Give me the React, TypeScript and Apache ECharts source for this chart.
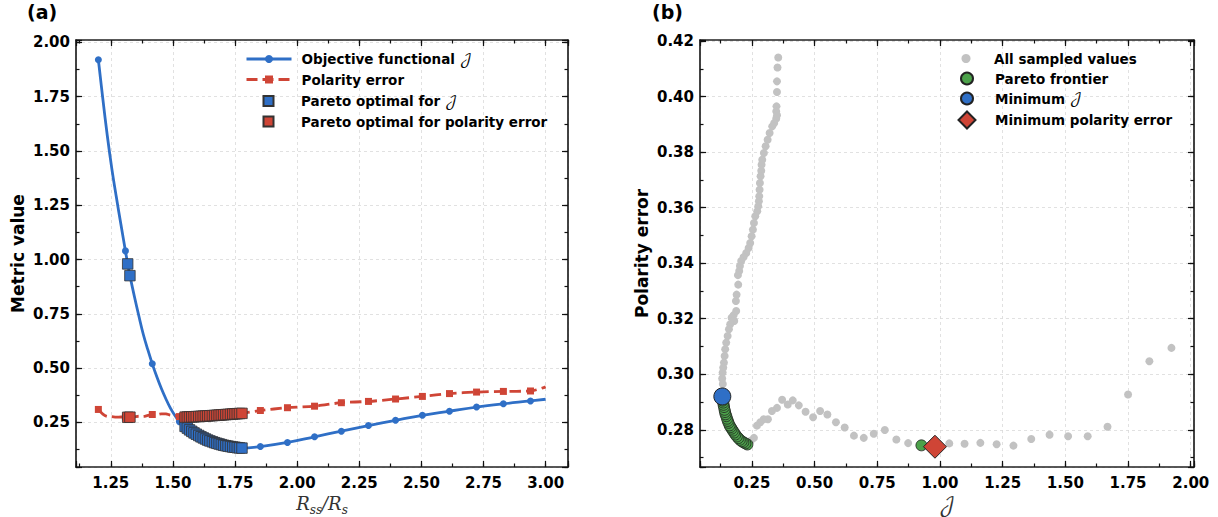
import React, { useEffect, useRef } from "react";
import * as echarts from "echarts";

// ---------- Panel (a): samples along R_ss/R_s (non-Pareto) ----------
const rssSamples = [1.200, 1.218, 1.236, 1.254, 1.272, 1.291, 1.309, 1.345, 1.363, 1.381, 1.399, 1.417, 1.436, 1.454, 1.472, 1.490, 1.508, 1.526, 1.540, 1.852, 1.961, 2.070, 2.178, 2.287, 2.396, 2.504, 2.613, 2.722, 2.830, 2.939, 3.000];
const jSamples = [1.92, 1.74, 1.57, 1.42, 1.29, 1.16, 1.04, 0.83, 0.74, 0.655, 0.585, 0.52, 0.458, 0.405, 0.358, 0.316, 0.282, 0.254, 0.240, 0.139, 0.158, 0.184, 0.210, 0.236, 0.260, 0.283, 0.302, 0.321, 0.336, 0.349, 0.357];
const polSamples = [0.310, 0.288, 0.2777, 0.2767, 0.2746, 0.2752, 0.2751, 0.2764, 0.2786, 0.2778, 0.2824, 0.2868, 0.2866, 0.2900, 0.2895, 0.2838, 0.2827, 0.2771, 0.2760, 0.305, 0.318, 0.325, 0.341, 0.347, 0.358, 0.370, 0.383, 0.390, 0.393, 0.395, 0.414];

// ---------- Pareto-optimal samples ----------
const paretoRss = [1.318, 1.327, 1.549, 1.558, 1.567, 1.576, 1.585, 1.594, 1.604, 1.613, 1.622, 1.631, 1.640, 1.649, 1.659, 1.668, 1.677, 1.686, 1.695, 1.704, 1.713, 1.722, 1.732, 1.741, 1.750, 1.759, 1.768, 1.778];
const paretoJ = [0.98, 0.926, 0.232, 0.224, 0.216, 0.209, 0.202, 0.196, 0.190, 0.184, 0.179, 0.174, 0.169, 0.165, 0.161, 0.157, 0.154, 0.151, 0.148, 0.145, 0.143, 0.141, 0.139, 0.137, 0.136, 0.134, 0.133, 0.132];
const paretoPol = [0.2739, 0.2744, 0.2747, 0.2751, 0.2755, 0.2759, 0.2764, 0.2770, 0.2776, 0.2783, 0.2790, 0.2797, 0.2804, 0.2810, 0.2816, 0.2825, 0.2832, 0.2840, 0.2849, 0.2856, 0.2864, 0.2872, 0.2882, 0.2890, 0.2898, 0.2905, 0.2912, 0.2920];

// samples that carry a line marker in panel (a)
const markerRss = [1.200, 1.309, 1.417, 1.526, 1.640, 1.741, 1.852, 1.961, 2.070, 2.178, 2.287, 2.396, 2.504, 2.613, 2.722, 2.830, 2.939];

// ---------- Panel (b): all sampled (J, polarity error) pairs ----------
const upperJ = [0.355, 0.352, 0.350, 0.350, 0.348, 0.347, 0.350, 0.347, 0.339, 0.331, 0.3206, 0.3126, 0.3046, 0.2978, 0.2912, 0.2886, 0.2872, 0.2846, 0.2819, 0.2806, 0.2793, 0.2779, 0.2753, 0.2713, 0.2633, 0.258, 0.254, 0.2488, 0.2432, 0.2368, 0.2273, 0.2169, 0.2073, 0.2022, 0.1994, 0.1942, 0.1954, 0.189, 0.1862, 0.1874, 0.177, 0.169, 0.1796, 0.1635, 0.1583, 0.1531, 0.1475, 0.1435, 0.1411, 0.1384, 0.1356, 0.1332, 0.1316, 0.134];
const upperPol = [0.4141, 0.4105, 0.4055, 0.4017, 0.3965, 0.3947, 0.3933, 0.3921, 0.3905, 0.3893, 0.3869, 0.3845, 0.3821, 0.3797, 0.3773, 0.3755, 0.3733, 0.3713, 0.3689, 0.3665, 0.3641, 0.3623, 0.3605, 0.3587, 0.3569, 0.3545, 0.3521, 0.3497, 0.3473, 0.3455, 0.3437, 0.3422, 0.3408, 0.339, 0.3372, 0.3357, 0.3323, 0.3287, 0.3264, 0.3228, 0.3213, 0.3204, 0.3192, 0.318, 0.3162, 0.3138, 0.3114, 0.309, 0.3066, 0.3042, 0.3024, 0.3006, 0.2985, 0.2965];
const lowerJ = [1.923, 1.835, 1.75, 1.668, 1.589, 1.511, 1.437, 1.364, 1.293, 1.226, 1.161, 1.098, 1.037, 0.873, 0.826, 0.780, 0.736, 0.696, 0.657, 0.620, 0.585, 0.551, 0.522, 0.494, 0.464, 0.437, 0.413, 0.393, 0.3705, 0.350, 0.330, 0.314, 0.297, 0.2835, 0.270, 0.258, 0.245];
const lowerPol = [0.3095, 0.3047, 0.2927, 0.2811, 0.2777, 0.2777, 0.2782, 0.2767, 0.2743, 0.2748, 0.2753, 0.2750, 0.2751, 0.2752, 0.2765, 0.2799, 0.2786, 0.2771, 0.2779, 0.2808, 0.2827, 0.2855, 0.2868, 0.2845, 0.2865, 0.2888, 0.2906, 0.2891, 0.2908, 0.2879, 0.2868, 0.2838, 0.2838, 0.2827, 0.2815, 0.2771, 0.2760];

const BLUE = "#2f6fc6";
const RED = "#cf4536";
const GREEN = "#4ca24a";
const GREY = "#c2c2c2";
const FONT = "'DejaVu Sans', sans-serif";
const MATH = "'DejaVu Math TeX Gyre', 'DejaVu Serif', 'DejaVu Sans', serif";
const JCHAR = "\u{1D4A5}";

const fmt = (step: number) => (v: number) => {
  const r = v / step;
  return Math.abs(r - Math.round(r)) < 1e-6 ? v.toFixed(2) : "";
};

const tickLine = { color: "#111", width: 1.2 };
const frameLine = { color: "#222", width: 1.7 };
const LABEL = { color: "#000", fontFamily: FONT, fontWeight: "bold", fontSize: 15 };

function xAxesFor(grid: number, min: number, max: number, major: number, minor: number, name: string, nameTextStyle: any, nameGap: number) {
  const base = { type: "value", gridIndex: grid, min, max };
  return [
    {
      ...base, position: "bottom", minInterval: major, maxInterval: major,
      axisLine: { show: true, onZero: false, lineStyle: frameLine },
      axisTick: { show: true, inside: true, length: 6, lineStyle: tickLine },
      axisLabel: { show: true, margin: 8, formatter: fmt(major), ...LABEL },
      splitLine: { show: true, lineStyle: { color: "#d9d9d9", width: 0.8, type: [3, 3] } },
      name, nameLocation: "middle", nameGap, nameTextStyle,
    },
    {
      ...base, position: "bottom", minInterval: minor, maxInterval: minor,
      axisLine: { show: false, onZero: false },
      axisTick: { show: true, inside: true, length: 3.5, lineStyle: tickLine },
      axisLabel: { show: false }, splitLine: { show: false },
    },
    {
      ...base, position: "top", minInterval: major, maxInterval: major,
      axisLine: { show: true, onZero: false, lineStyle: frameLine },
      axisTick: { show: true, inside: true, length: 6, lineStyle: tickLine },
      axisLabel: { show: false }, splitLine: { show: false },
    },
    {
      ...base, position: "top", minInterval: minor, maxInterval: minor,
      axisLine: { show: false, onZero: false },
      axisTick: { show: true, inside: true, length: 3.5, lineStyle: tickLine },
      axisLabel: { show: false }, splitLine: { show: false },
    },
  ];
}

function yAxesFor(grid: number, min: number, max: number, major: number, minor: number, name: string) {
  const base = { type: "value", gridIndex: grid, min, max };
  return [
    {
      ...base, position: "left", minInterval: major, maxInterval: major,
      axisLine: { show: true, onZero: false, lineStyle: frameLine },
      axisTick: { show: true, inside: true, length: 6, lineStyle: tickLine },
      axisLabel: { show: true, margin: 6, formatter: fmt(major), ...LABEL },
      splitLine: { show: true, lineStyle: { color: "#d9d9d9", width: 0.8, type: [3, 3] } },
      name, nameLocation: "middle", nameGap: 50, nameRotate: 90,
      nameTextStyle: { fontFamily: FONT, fontWeight: "bold", fontSize: 17, color: "#000" },
    },
    {
      ...base, position: "left", minInterval: minor, maxInterval: minor,
      axisLine: { show: false, onZero: false },
      axisTick: { show: true, inside: true, length: 3.5, lineStyle: tickLine },
      axisLabel: { show: false }, splitLine: { show: false },
    },
    {
      ...base, position: "right", minInterval: major, maxInterval: major,
      axisLine: { show: true, onZero: false, lineStyle: frameLine },
      axisTick: { show: true, inside: true, length: 6, lineStyle: tickLine },
      axisLabel: { show: false }, splitLine: { show: false },
    },
    {
      ...base, position: "right", minInterval: minor, maxInterval: minor,
      axisLine: { show: false, onZero: false },
      axisTick: { show: true, inside: true, length: 3.5, lineStyle: tickLine },
      axisLabel: { show: false }, splitLine: { show: false },
    },
  ];
}

// one legend component per entry: icon centred at (cx, cy), text starting at textX
function legendFor(name: string, cx: number, cy: number, itemWidth: number, itemHeight: number, textX: number, extra: any = {}) {
  const left = cx - itemWidth / 2;
  const gap = Math.max(0, textX - (left + itemWidth + 5));
  const h = Math.max(itemHeight, 16);
  return {
    show: true, left, top: cy - h / 2, padding: 0, orient: "vertical", itemWidth, itemHeight,
    selectedMode: false, data: [name],
    formatter: (n: string) => "{g|}" + n.replace(JCHAR, "{j|" + JCHAR + "}"),
    textStyle: {
      fontFamily: FONT, fontWeight: "bold", fontSize: 13.5, color: "#000", lineHeight: 16,
      rich: {
        g: { width: gap, lineHeight: 16 },
        j: { fontFamily: MATH, fontWeight: "normal", fontSize: 15, color: "#000", lineHeight: 16 },
      },
    },
    ...extra,
  };
}

export default function App() {
  const ref = useRef<HTMLDivElement>(null);

  useEffect(() => {
    if (!ref.current) return;
    const chart = echarts.init(ref.current, undefined, { renderer: "svg" });

    // merge samples + pareto for panel (a) lines
    const pts: { x: number; j: number; p: number }[] = [];
    rssSamples.forEach((x, i) => pts.push({ x, j: jSamples[i], p: polSamples[i] }));
    paretoRss.forEach((x, i) => pts.push({ x, j: paretoJ[i], p: paretoPol[i] }));
    pts.sort((a, b) => a.x - b.x);
    const isMarker = (x: number) => markerRss.some((m) => Math.abs(m - x) < 0.0015);
    const lineJ = pts.map((d) => ({ value: [d.x, d.j], symbol: isMarker(d.x) ? "circle" : "none" }));
    const linePol = pts.map((d) => ({ value: [d.x, d.p], symbol: isMarker(d.x) ? "rect" : "none" }));

    let iMinJ = 0;
    let iMinP = 0;
    paretoJ.forEach((v, i) => { if (v < paretoJ[iMinJ]) iMinJ = i; });
    paretoPol.forEach((v, i) => { if (v < paretoPol[iMinP]) iMinP = i; });

    const sampled = [
      ...upperJ.map((v, i) => [v, upperPol[i]]),
      ...lowerJ.map((v, i) => [v, lowerPol[i]]),
      ...paretoJ.map((v, i) => [v, paretoPol[i]]),
    ];

    const nameA = {
      rich: {
        i: { fontFamily: "'DejaVu Serif', serif", fontStyle: "italic", fontSize: 18, color: "#333" },
        s: { fontFamily: "'DejaVu Serif', serif", fontStyle: "italic", fontSize: 12, color: "#333", padding: [13, 0, 0, 0] },
      },
    };
    const nameB = {
      rich: { j: { fontFamily: MATH, fontSize: 20, color: "#333" } },
    };

    const lineLeg = (w: number) => ({ lineStyle: { width: w } });

    const option: any = {
      animation: false,
      backgroundColor: "#fff",
      title: [
        { text: "(a)", left: 27, top: 2, padding: 0, textStyle: { fontFamily: FONT, fontWeight: "bold", fontSize: 19, color: "#000" } },
        { text: "(b)", left: 652, top: 2, padding: 0, textStyle: { fontFamily: FONT, fontWeight: "bold", fontSize: 19, color: "#000" } },
      ],
      grid: [
        { left: 76, top: 40, width: 492, height: 427, containLabel: false, outerBoundsMode: "none" },
        { left: 700, top: 40, width: 494, height: 427, containLabel: false, outerBoundsMode: "none" },
      ],
      xAxis: [
        ...xAxesFor(0, 1.11, 3.09, 0.25, 0.125, "{i|R}{s|ss}{i|/R}{s|s}", nameA, 24),
        ...xAxesFor(1, 0.043, 2.013, 0.25, 0.125, "{j|" + JCHAR + "}", nameB, 22),
      ],
      yAxis: [
        ...yAxesFor(0, 0.045, 2.011, 0.25, 0.125, "Metric value"),
        ...yAxesFor(1, 0.2666, 0.4204, 0.02, 0.01, "Polarity error"),
      ],
      legend: [
        legendFor("Objective functional " + JCHAR, 267.5, 59, 45, 10, 300, lineLeg(3)),
        legendFor("Polarity error", 267.5, 79.5, 45, 10, 300, lineLeg(3)),
        legendFor("Pareto optimal for " + JCHAR, 267.5, 101, 10, 10, 300),
        legendFor("Pareto optimal for polarity error", 267.5, 121.5, 10, 10, 300),
        legendFor("All sampled values", 966, 58.5, 9, 9, 994),
        legendFor("Pareto frontier", 966, 78.5, 12, 12, 994),
        legendFor("Minimum " + JCHAR, 966, 98.5, 12, 12, 994),
        legendFor("Minimum polarity error", 966, 119, 17, 17, 994),
      ],
      series: [
        {
          type: "line", name: "Objective functional " + JCHAR, xAxisIndex: 0, yAxisIndex: 0,
          data: lineJ, smooth: 0.4, symbol: "circle", symbolSize: 7, showSymbol: true,
          lineStyle: { color: BLUE, width: 2.8 }, itemStyle: { color: BLUE }, z: 2,
        },
        {
          type: "line", name: "Polarity error", xAxisIndex: 0, yAxisIndex: 0,
          data: linePol, smooth: 0.3, symbol: "rect", symbolSize: 7, showSymbol: true,
          lineStyle: { color: RED, width: 2.8, type: [11, 5] }, itemStyle: { color: RED }, z: 2,
        },
        {
          type: "scatter", name: "Pareto optimal for " + JCHAR, xAxisIndex: 0, yAxisIndex: 0,
          data: paretoRss.map((x, i) => [x, paretoJ[i]]), symbol: "rect", symbolSize: 10.5,
          itemStyle: { color: BLUE, borderColor: "#333", borderWidth: 0.8, opacity: 1 }, z: 3,
        },
        {
          type: "scatter", name: "Pareto optimal for polarity error", xAxisIndex: 0, yAxisIndex: 0,
          data: paretoRss.map((x, i) => [x, paretoPol[i]]), symbol: "rect", symbolSize: 10.5,
          itemStyle: { color: RED, borderColor: "#333", borderWidth: 0.8, opacity: 1 }, z: 3,
        },
        {
          type: "scatter", name: "All sampled values", xAxisIndex: 4, yAxisIndex: 4,
          data: sampled, symbol: "circle", symbolSize: 8, itemStyle: { color: GREY, opacity: 1 }, z: 2,
        },
        {
          type: "scatter", name: "Pareto frontier", xAxisIndex: 4, yAxisIndex: 4,
          data: paretoJ.map((v, i) => [v, paretoPol[i]]), symbol: "circle", symbolSize: 11,
          itemStyle: { color: GREEN, borderColor: "#222", borderWidth: 0.8, opacity: 1 }, z: 3,
        },
        {
          type: "scatter", name: "Minimum " + JCHAR, xAxisIndex: 4, yAxisIndex: 4,
          data: [[paretoJ[iMinJ], paretoPol[iMinJ]]], symbol: "circle", symbolSize: 17,
          itemStyle: { color: BLUE, borderColor: "#222", borderWidth: 1, opacity: 1 }, z: 4,
        },
        {
          type: "scatter", name: "Minimum polarity error", xAxisIndex: 4, yAxisIndex: 4,
          data: [[paretoJ[iMinP], paretoPol[iMinP]]], symbol: "diamond", symbolSize: 23,
          itemStyle: { color: RED, borderColor: "#222", borderWidth: 1, opacity: 1 }, z: 4,
        },
      ],
    };

    chart.setOption(option);
    return () => chart.dispose();
  }, []);

  return (
    <div
      ref={ref}
      style={{ position: "absolute", left: 0, top: 0, width: 1218, height: 517, background: "#fff" }}
    />
  );
}
